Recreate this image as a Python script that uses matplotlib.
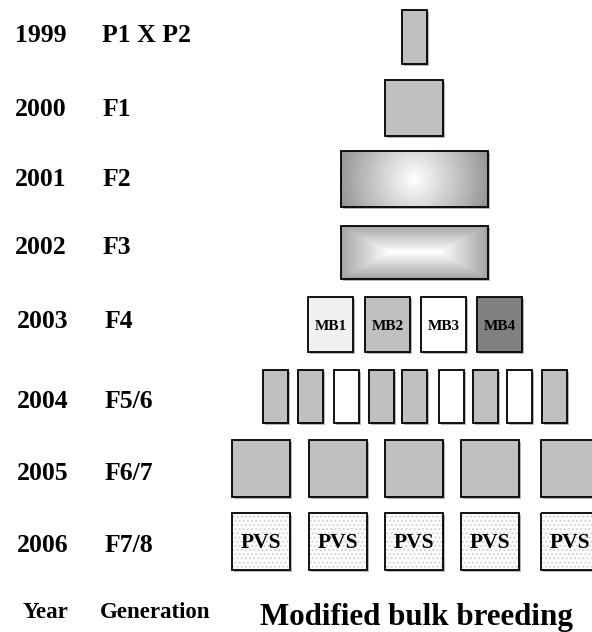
import numpy as np
import matplotlib
matplotlib.use("Agg")
import matplotlib.pyplot as plt
from matplotlib.patches import Rectangle

plt.rcParams["font.family"] = ["Liberation Serif", "DejaVu Serif"]
plt.rcParams["font.weight"] = "bold"
plt.rcParams["hatch.linewidth"] = 1.0

# row labels
years = ["1999", "2000", "2001", "2002", "2003", "2004", "2005", "2006"]
generations = ["P1 X P2", "F1", "F2", "F3", "F4", "F5/6", "F6/7", "F7/8"]
label_y = [36, 109, 179, 247, 322, 402, 474, 546]
year_x = [15, 15, 15, 15, 17, 17, 17, 17]
gen_x = [102, 103, 103, 103, 105, 105, 105, 105]

# boxes per row: (left, top, width, height)
row_1999 = [(402, 10, 25, 54)]
row_2000 = [(385, 80, 58, 56)]
row_2001 = [(341, 151, 147, 56)]
row_2002 = [(341, 226, 147, 53)]

mb_labels = ["MB1", "MB2", "MB3", "MB4"]
mb_left = [308, 365, 421, 477]
mb_fill = ["#f0f0f0", "#c0c0c0", "#ffffff", "#808080"]

f56_left = [263, 298, 334, 369, 402, 439, 473, 507, 542]
f56_fill = ["#c0c0c0", "#c0c0c0", "#ffffff", "#c0c0c0", "#c0c0c0",
            "#ffffff", "#c0c0c0", "#ffffff", "#c0c0c0"]

bulk_left = [232, 309, 385, 461, 541]
pvs_label = "PVS"

W, H = 592, 632
fig = plt.figure(figsize=(W / 100, H / 100), dpi=100)
ax = fig.add_axes([0, 0, 1, 1])
ax.set_xlim(0, W)
ax.set_ylim(H, 0)
ax.axis("off")

LW = 1.3


def shadow(x, y, w, h):
    ax.add_patch(Rectangle((x + 1.5, y + 1.5), w, h, fc="#b8b8b8", ec="none", zorder=1.5))


def box(x, y, w, h, fc):
    shadow(x, y, w, h)
    ax.add_patch(Rectangle((x, y), w, h, fc=fc, ec="black", lw=LW, zorder=2))


def gradient_box(x, y, w, h, kind):
    nx, ny = int(w * 2), int(h * 2)
    dx = np.abs(np.linspace(-w / 2, w / 2, nx))
    dy = np.abs(np.linspace(-h / 2, h / 2, ny))
    DX, DY = np.meshgrid(dx, dy)
    if kind == "radial":
        d = np.sqrt(DX ** 2 + DY ** 2) / (w / 2)
        g = 1.0 - 0.40 * np.clip(d, 0, 1.2)
    else:
        c = 25.0
        d = np.maximum(np.clip(DX - c, 0, None) / (w / 2 - c), DY / (h / 2))
        g = 1.0 - 0.36 * d
    g = np.round(g * 45) / 45
    shadow(x, y, w, h)
    ax.imshow(g, cmap="gray", vmin=0, vmax=1, extent=(x, x + w, y + h, y),
              aspect="auto", zorder=2, interpolation="nearest")
    ax.add_patch(Rectangle((x, y), w, h, fc="none", ec="black", lw=LW, zorder=3))


for x, y, w, h in row_1999 + row_2000:
    box(x, y, w, h, "#c0c0c0")

gradient_box(*row_2001[0], "radial")
gradient_box(*row_2002[0], "rect")

for x, lab, fc in zip(mb_left, mb_labels, mb_fill):
    box(x, 297, 45, 55, fc)
    ax.text(x + 22.5, 327, lab, ha="center", va="center", fontsize=11,
            color="black", zorder=4)

for x, fc in zip(f56_left, f56_fill):
    box(x, 370, 25, 53, fc)

for x in bulk_left:
    box(x, 440, 58, 57, "#c0c0c0")

for x in bulk_left:
    shadow(x, 513, 58, 57)
    ax.add_patch(Rectangle((x, 513), 58, 57, fc="white", ec="#d4d4d4", lw=0,
                           hatch="....", zorder=2))
    ax.add_patch(Rectangle((x, 513), 58, 57, fc="none", ec="black", lw=LW, zorder=3))
    ax.text(x + 29, 543, pvs_label, ha="center", va="center", fontsize=15.5, zorder=4)

for yr, gen, y, xy, xg in zip(years, generations, label_y, year_x, gen_x):
    ax.text(xy, y, yr, ha="left", va="center", fontsize=18.5)
    ax.text(xg, y, gen, ha="left", va="center", fontsize=18.5)

ax.text(23, 612, "Year", ha="left", va="center", fontsize=16.5)
ax.text(100, 612, "Generation", ha="left", va="center", fontsize=16.5)
ax.text(416, 618, "Modified bulk breeding", ha="center", va="center", fontsize=22.3)

fig.savefig("out.png", dpi=100)
